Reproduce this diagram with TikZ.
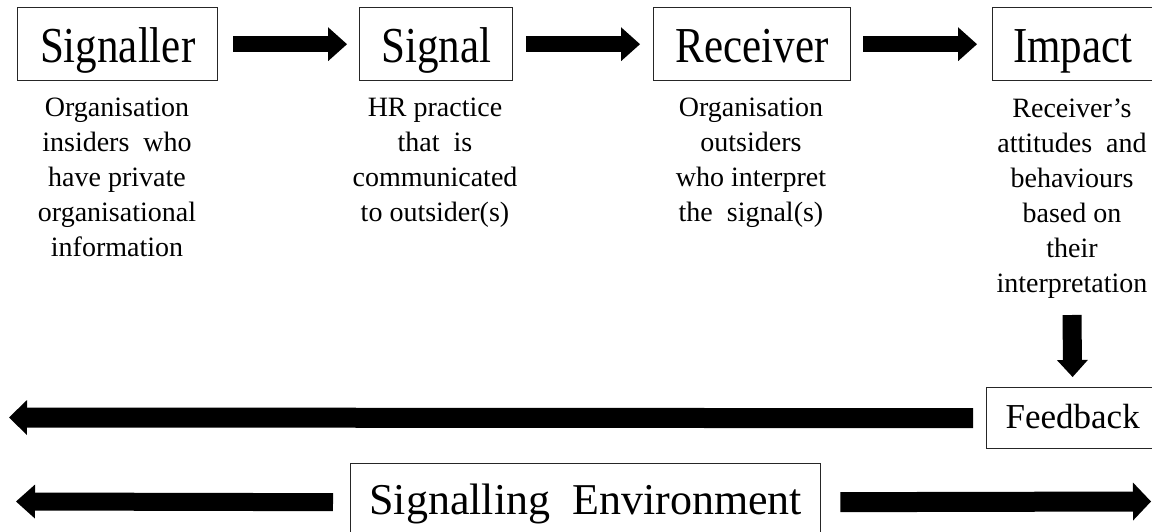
\documentclass[tikz,border=0pt]{standalone}
\usepackage{graphicx}
\usepackage{fontspec}
\setmainfont{Liberation Serif}
\usetikzlibrary{arrows.meta}
\newcommand{\vst}[1]{\scalebox{1}[1.17]{#1}}
\newcommand{\lines}[1]{\begin{tabular}[t]{@{}c@{}}#1\end{tabular}}
\begin{document}
\begin{tikzpicture}[x=1pt,y=-1pt,
  frame/.style={draw=black!85, line width=1.4pt, inner sep=0pt, anchor=north west,
    text height=55pt, text depth=18pt, minimum height=73pt,
    font=\fontsize{43}{50}\selectfont},
  desc/.style={anchor=base, inner sep=0pt, font=\fontsize{28}{35}\selectfont},
  barrow/.style args={#1/#2/#3}{line width=#1, black,
    -{Triangle[length=#3,width=#2,line width=0pt]}}]
\useasboundingbox (0,0) rectangle (1152,532);

% top boxes
\node[frame, minimum width=200pt] (sgr) at (17,7) {\vst{Signaller}};
\node[frame, minimum width=153pt] (sgl) at (359,7) {\vst{Signal}};
\node[frame, minimum width=197pt] (rcv) at (653,7) {\vst{Receiver}};
\node[frame, minimum width=160pt] (imp) at (992,7) {\vst{Impact}};

% descriptions
\node[desc] (dsgr) at (117,117) {\lines{Organisation\\insiders~ who\\have private\\organisational\\information}};
\node[desc] (dsgl) at (435,117) {\lines{HR practice\\that~ is\\communicated\\to outsider(s)}};
\node[desc] (drcv) at (751,117) {\lines{Organisation\\outsiders\\who interpret\\the~ signal(s)}};
\node[desc] (dimp) at (1072,118) {\lines{Receiver’s\\attitudes~ and\\behaviours\\based on\\their\\interpretation}};

% feedback and environment
\node[frame, minimum width=172pt, minimum height=61pt, text height=41pt, text depth=20pt,
  font=\fontsize{35}{40}\selectfont] (fb) at (986,387) {Feedback};
\node[frame, minimum width=470pt, minimum height=77pt, text height=51pt, text depth=26pt,
  font=\fontsize{44}{50}\selectfont] (env) at (350,463) {Signalling~ Environment};

\coordinate (dstart) at (1072,315);
\coordinate (fbend) at (9,417.5);
\coordinate (envl) at (16,501.5);
\coordinate (envr) at (1151,501.5);

% arrows
\draw[barrow={16pt/34pt/19pt}, shorten <=15pt, shorten >=12pt] (sgr.east) -- (sgl.west);
\draw[barrow={16pt/34pt/19pt}, shorten <=13pt, shorten >=13pt] (sgl.east) -- (rcv.west);
\draw[barrow={16pt/34pt/19pt}, shorten <=12pt, shorten >=15pt] (rcv.east) -- (imp.west);
\draw[barrow={19pt/31pt/17pt}, shorten >=10pt] (dstart) -- (fb.north);
\draw[barrow={20pt/35pt/18pt}, shorten <=13pt] (fb.west) -- (fbend);
\draw[barrow={18pt/34pt/19pt}, shorten <=17pt] (env.west) -- (envl);
\draw[barrow={20pt/38pt/18pt}, shorten <=19pt] (env.east) -- (envr);
\end{tikzpicture}
\end{document}
